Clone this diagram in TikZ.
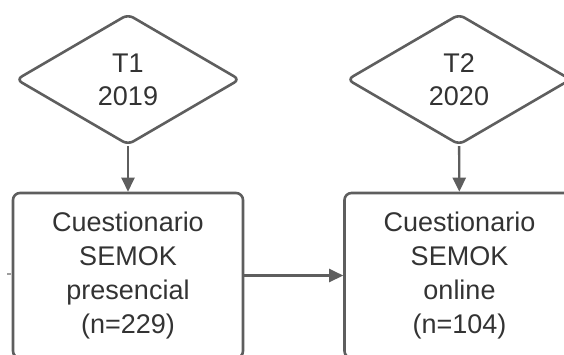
\documentclass[tikz,border=0pt]{standalone}
\usepackage{fontspec}
\setmainfont{Liberation Sans}
\usetikzlibrary{shapes.geometric,arrows.meta}
\definecolor{linegray}{HTML}{5E5E5E}
\definecolor{textgray}{HTML}{333333}
\begin{document}
\begin{tikzpicture}[
  x=1pt, y=-1pt,
  year/.style={draw=linegray, line width=2.6pt, diamond, rounded corners=6pt, align=center, inner sep=0pt,
    minimum width=224pt, minimum height=131pt, text=textgray, font=\fontsize{27}{33}\selectfont},
  survey/.style={draw=linegray, line width=2.6pt, rounded corners=7pt, align=center, inner sep=0pt,
    minimum width=230pt, minimum height=165pt, text=textgray, font=\fontsize{27}{34}\selectfont},
  link/.style={draw=linegray, line width=2.4pt, -{Triangle[length=14pt,width=13pt]}}
]
\useasboundingbox (0,0) rectangle (564,354);
\clip (0,0) rectangle (564,354);
\node[year] (t1) at (128,79.5) {T1\\2019};
\node[year] (t2) at (459,79.5) {T2\\2020};
\node[survey] (presencial) at (128,275.5) {Cuestionario\\SEMOK\\presencial\\(n=229)};
\node[survey] (online) at (459.5,275.5) {Cuestionario\\SEMOK\\online\\(n=104)};
\coordinate (stubA) at (7,274);
\coordinate (stubB) at (10.5,274);

\draw[link] (t1) -- (presencial);
\draw[link] (t2) -- (online);
\draw[link] (presencial) -- (online);
\draw[draw=linegray!60, line width=2pt] (stubA) -- (stubB);
\end{tikzpicture}
\end{document}
